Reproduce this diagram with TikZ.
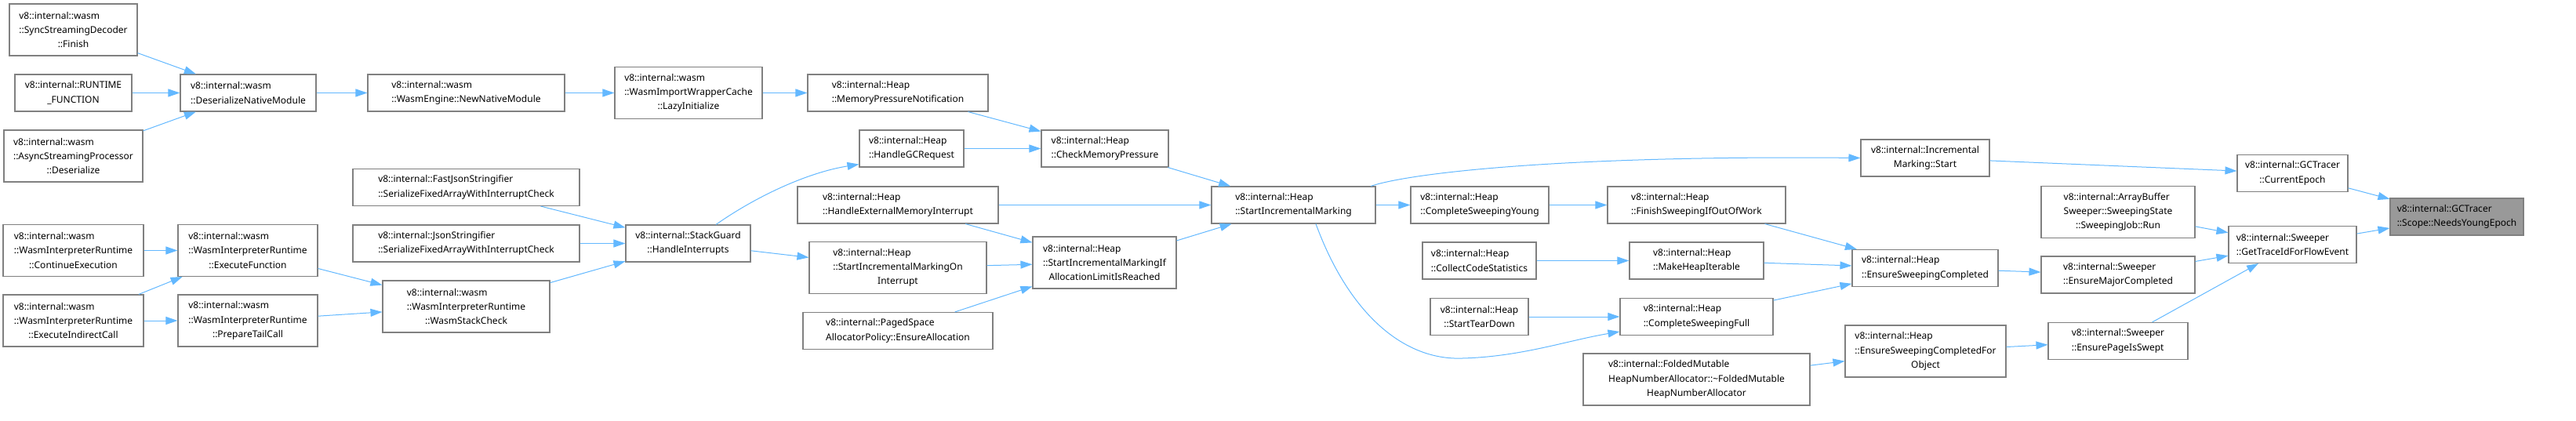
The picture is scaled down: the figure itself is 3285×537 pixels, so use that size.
\documentclass[tikz,border=0pt]{standalone}
\usepackage{fontspec}
\setmainfont{Noto Sans}
\usetikzlibrary{arrows.meta}
\definecolor{edgeblue}{HTML}{63B8FF}
\definecolor{boxgray}{HTML}{808080}
\definecolor{rootgray}{HTML}{999999}
\newcommand{\lastln}[1]{\hspace*{\fill}#1\hspace*{\fill}}

\begin{document}
\begin{tikzpicture}[x=1pt, y=-1pt,
    fn/.style={draw=boxgray, line width=1.1pt, fill=white, align=left, inner xsep=4pt, inner ysep=1pt,
               minimum height=47, font=\fontsize{12}{18.3}\selectfont},
    tall/.style={fn, minimum height=66},
    root/.style={fn, fill=rootgray},
    call/.style={draw=edgeblue, line width=1pt, -{Triangle[length=15pt,width=10pt]}}]
  \useasboundingbox (0,0) rectangle (3285,537);

  \node[tall, minimum width=163] (sync) at (93.5,38) {v8::internal::wasm\\::SyncStreamingDecoder\\\lastln{::Finish}};
  \node[fn, minimum width=149] (rtf) at (93.5,118.5) {v8::internal::RUNTIME\\\lastln{\_FUNCTION}};
  \node[tall, minimum width=177] (async) at (93.5,199) {v8::internal::wasm\\::AsyncStreamingProcessor\\\lastln{::Deserialize}};
  \node[tall, minimum width=179] (contex) at (93.5,319.5) {v8::internal::wasm\\::WasmInterpreterRuntime\\\lastln{::ContinueExecution}};
  \node[tall, minimum width=179] (indir) at (93.5,409) {v8::internal::wasm\\::WasmInterpreterRuntime\\\lastln{::ExecuteIndirectCall}};

  \node[fn, minimum width=173] (deser) at (316.5,118.5) {v8::internal::wasm\\::DeserializeNativeModule};
  \node[tall, minimum width=178] (exfn) at (316,319.5) {v8::internal::wasm\\::WasmInterpreterRuntime\\\lastln{::ExecuteFunction}};
  \node[tall, minimum width=178] (tail) at (316,409) {v8::internal::wasm\\::WasmInterpreterRuntime\\\lastln{::PrepareTailCall}};

  \node[fn, minimum width=251] (newnm) at (594.5,118.5) {v8::internal::wasm\\::WasmEngine::NewNativeModule};
  \node[fn, minimum width=289] (fastjs) at (594.5,239) {v8::internal::FastJsonStringifier\\::SerializeFixedArrayWithInterruptCheck};
  \node[fn, minimum width=289] (json) at (594.5,310.5) {v8::internal::JsonStringifier\\::SerializeFixedArrayWithInterruptCheck};
  \node[tall, minimum width=213] (stchk) at (594.5,391) {v8::internal::wasm\\::WasmInterpreterRuntime\\\lastln{::WasmStackCheck}};

  \node[tall, minimum width=188] (lazy) at (878,118.5) {v8::internal::wasm\\::WasmImportWrapperCache\\\lastln{::LazyInitialize}};
  \node[fn, minimum width=159] (hint) at (877.5,310.5) {v8::internal::StackGuard\\\lastln{::HandleInterrupts}};

  \node[fn, minimum width=230] (mempn) at (1145,118.5) {v8::internal::Heap\\::MemoryPressureNotification};
  \node[fn, minimum width=133] (gcreq) at (1162.5,189.5) {v8::internal::Heap\\::HandleGCRequest};
  \node[fn, minimum width=256] (extmi) at (1145,261.5) {v8::internal::Heap\\::HandleExternalMemoryInterrupt};
  \node[tall, minimum width=226] (onint) at (1145,341.5) {v8::internal::Heap\\::StartIncrementalMarkingOn\\\lastln{Interrupt}};
  \node[fn, minimum width=242] (ensal) at (1145,422) {v8::internal::PagedSpace\\AllocatorPolicy::EnsureAllocation};

  \node[fn, minimum width=162] (chkmp) at (1409,189.5) {v8::internal::Heap\\::CheckMemoryPressure};
  \node[tall, minimum width=183] (iflim) at (1408.5,335) {v8::internal::Heap\\::StartIncrementalMarkingIf\\\lastln{AllocationLimitIsReached}};
  \node[fn, minimum width=209] (startim) at (1649.5,261.5) {v8::internal::Heap\\::StartIncrementalMarking};

  \node[fn, minimum width=176] (swyoung) at (1887,261.5) {v8::internal::Heap\\::CompleteSweepingYoung};
  \node[fn, minimum width=145] (collect) at (1886.5,332.5) {v8::internal::Heap\\::CollectCodeStatistics};
  \node[fn, minimum width=125] (teardown) at (1886.5,404) {v8::internal::Heap\\\lastln{::StartTearDown}};

  \node[fn, minimum width=227] (finish) at (2163.5,261.5) {v8::internal::Heap\\::FinishSweepingIfOutOfWork};
  \node[fn, minimum width=171] (iter) at (2163.5,332.5) {v8::internal::Heap\\::MakeHeapIterable};
  \node[fn, minimum width=195] (swfull) at (2163.5,404) {v8::internal::Heap\\::CompleteSweepingFull};
  \node[tall, minimum width=289] (folded) at (2163.5,484) {v8::internal::FoldedMutable\\HeapNumberAllocator::\textasciitilde FoldedMutable\\\lastln{HeapNumberAllocator}};

  \node[fn, minimum width=164] (imstart) at (2455,201.5) {v8::internal::Incremental\\\lastln{Marking::Start}};
  \node[fn, minimum width=186] (ensw) at (2455,342) {v8::internal::Heap\\::EnsureSweepingCompleted};
  \node[tall, minimum width=205] (enswobj) at (2455.5,448) {v8::internal::Heap\\::EnsureSweepingCompletedFor\\\lastln{Object}};

  \node[tall, minimum width=196] (abs) at (2701,270.5) {v8::internal::ArrayBuffer\\Sweeper::SweepingState\\\lastln{::SweepingJob::Run}};
  \node[fn, minimum width=196] (major) at (2701,350.5) {v8::internal::Sweeper\\::EnsureMajorCompleted};
  \node[fn, minimum width=178] (page) at (2701,435) {v8::internal::Sweeper\\::EnsurePageIsSwept};

  \node[fn, minimum width=141] (epoch) at (2923.5,221) {v8::internal::GCTracer\\\lastln{::CurrentEpoch}};
  \node[fn, minimum width=163] (trace) at (2923.5,312) {v8::internal::Sweeper\\::GetTraceIdForFlowEvent};
  \node[root, minimum width=170] (needs) at (3133,276.5) {v8::internal::GCTracer\\::Scope::NeedsYoungEpoch};

  \draw[call] (sync) -- (deser);
  \draw[call] (rtf) -- (deser);
  \draw[call] (async) -- (deser);
  \draw[call] (deser) -- (newnm);
  \draw[call] (newnm) -- (lazy);
  \draw[call] (lazy) -- (mempn);
  \draw[call] (mempn) -- (chkmp);
  \draw[call] (gcreq) -- (chkmp);
  \draw[call] (chkmp) -- (startim);
  \draw[call] (extmi) -- (startim);
  \draw[call] (extmi) -- (iflim);
  \draw[call] (onint) -- (iflim);
  \draw[call] (ensal) -- (iflim);
  \draw[call] (iflim) -- (startim);
  \draw[call] (contex) -- (exfn);
  \draw[call] (indir) -- (exfn);
  \draw[call] (indir) -- (tail);
  \draw[call] (exfn) -- (stchk);
  \draw[call] (tail) -- (stchk);
  \draw[call] (fastjs) -- (hint);
  \draw[call] (json) -- (hint);
  \draw[call] (stchk) -- (hint);
  \draw[call] (hint) -- (onint);
  \draw[call] ([xshift=35.5pt]hint.north) .. controls (965,250) and (1030,220) .. ([yshift=4pt]gcreq.south west);
  \draw[call] (startim) -- (swyoung);
  \draw[call] (swyoung) -- (finish);
  \draw[call] (collect) -- (iter);
  \draw[call] (teardown) -- (swfull);
  \draw[call] ([xshift=98.5pt]startim.north) .. controls (1800,220) and (2000,198) .. (imstart.west);
  \draw[call] ([xshift=28.5pt]startim.south) .. controls (1720,400) and (1790,460) .. (1865,457)
    .. controls (1940,455) and (2000,434) .. ([yshift=5pt]swfull.south west);
  \draw[call] (finish) -- (ensw);
  \draw[call] (iter) -- (ensw);
  \draw[call] (swfull) -- (ensw);
  \draw[call] (folded) -- (enswobj);
  \draw[call] (ensw) -- (major);
  \draw[call] (enswobj) -- (page);
  \draw[call] (imstart) -- (epoch);
  \draw[call] (abs) -- (trace);
  \draw[call] (major) -- (trace);
  \draw[call] (page) -- (trace);
  \draw[call] (epoch) -- (needs);
  \draw[call] (trace) -- (needs);
\end{tikzpicture}
\end{document}
